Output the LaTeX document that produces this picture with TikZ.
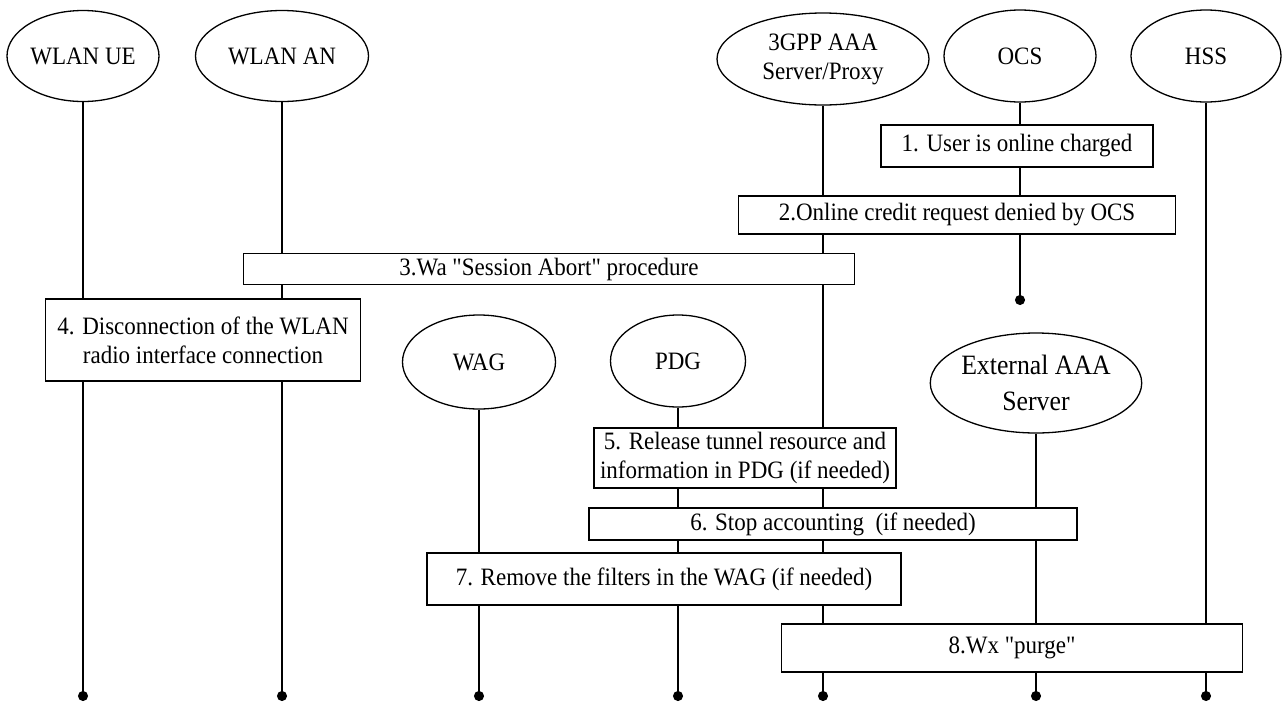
\documentclass[tikz,border=0pt]{standalone}
\usepackage{fontspec}
\setmainfont{Liberation Serif}[FakeStretch=0.92,Ligatures=TeXOff]
\usetikzlibrary{shapes.geometric,arrows.meta}

\begin{document}
\begin{tikzpicture}[x=1pt,y=-1pt,line width=1.3pt,
		entity/.style={ellipse,draw,align=center,inner sep=0pt,font=\fontsize{25}{29}\selectfont},
		action/.style={rectangle,draw,fill=white,align=center,inner sep=2pt,font=\fontsize{25}{29}\selectfont},
		life/.style={-{Circle[length=10pt,width=10pt]}}]
			\useasboundingbox (0,0) rectangle (1282,702);
			% entities
			\node[entity,minimum width=152pt,minimum height=91pt](ue) at (83,56){WLAN UE};
			\node[entity,minimum width=173pt,minimum height=91pt](an) at (282,56){WLAN AN};
			\node[entity,minimum width=212pt,minimum height=92pt](aaa) at (823,59){3GPP AAA\\Server/Proxy};
			\node[entity,minimum width=152pt,minimum height=92pt](ocs) at (1020,56){OCS};
			\node[entity,minimum width=150pt,minimum height=92pt](hss) at (1206,56){HSS};
			\node[entity,minimum width=153pt,minimum height=94pt](wag) at (479,362){WAG};
			\node[entity,minimum width=135pt,minimum height=92pt](pdg) at (678,361){PDG};
			\node[entity,minimum width=210pt,minimum height=100pt,font=\fontsize{28}{36}\selectfont](ext) at (1036,383){External AAA\\Server};
			% lifeline ends
			\coordinate(ueEnd) at (83,701);
			\coordinate(anEnd) at (282,701);
			\coordinate(wagEnd) at (479,701);
			\coordinate(pdgEnd) at (678,701);
			\coordinate(aaaEnd) at (823,701);
			\coordinate(extEnd) at (1036,701);
			\coordinate(hssEnd) at (1206,701);
			\coordinate(ocsEnd) at (1020,305);
			\draw[life](ue)--(ueEnd);
			\draw[life](an)--(anEnd);
			\draw[life](wag)--(wagEnd);
			\draw[life](pdg)--(pdgEnd);
			\draw[life](aaa)--(aaaEnd);
			\draw[life](ext)--(extEnd);
			\draw[life](hss)--(hssEnd);
			\draw[life](ocs)--(ocsEnd);
			% steps
			\node[action,minimum width=272pt,minimum height=42pt](charged) at (1017,146){1. User is online charged};
			\node[action,minimum width=437pt,minimum height=38pt](denied) at (957,215){2.Online credit request denied by OCS};
			\node[action,minimum width=611pt,minimum height=31pt](abort) at (549,269){3.Wa "Session Abort" procedure};
			\node[action,minimum width=315pt,minimum height=82pt](disc) at (203,340){4. Disconnection of the WLAN\\radio interface connection};
			\node[action,minimum width=302pt,minimum height=60pt](release) at (745,458){5. Release tunnel resource and\\information in PDG (if needed)};
			\node[action,minimum width=488pt,minimum height=32pt](stopacct) at (833,524){6. Stop accounting\ \ (if needed)};
			\node[action,minimum width=474pt,minimum height=52pt](filters) at (664,579){7. Remove the filters in the WAG (if needed)};
			\node[action,minimum width=461pt,minimum height=48pt](purge) at (1012,648){8.Wx "purge"};
		\end{tikzpicture}
\end{document}
